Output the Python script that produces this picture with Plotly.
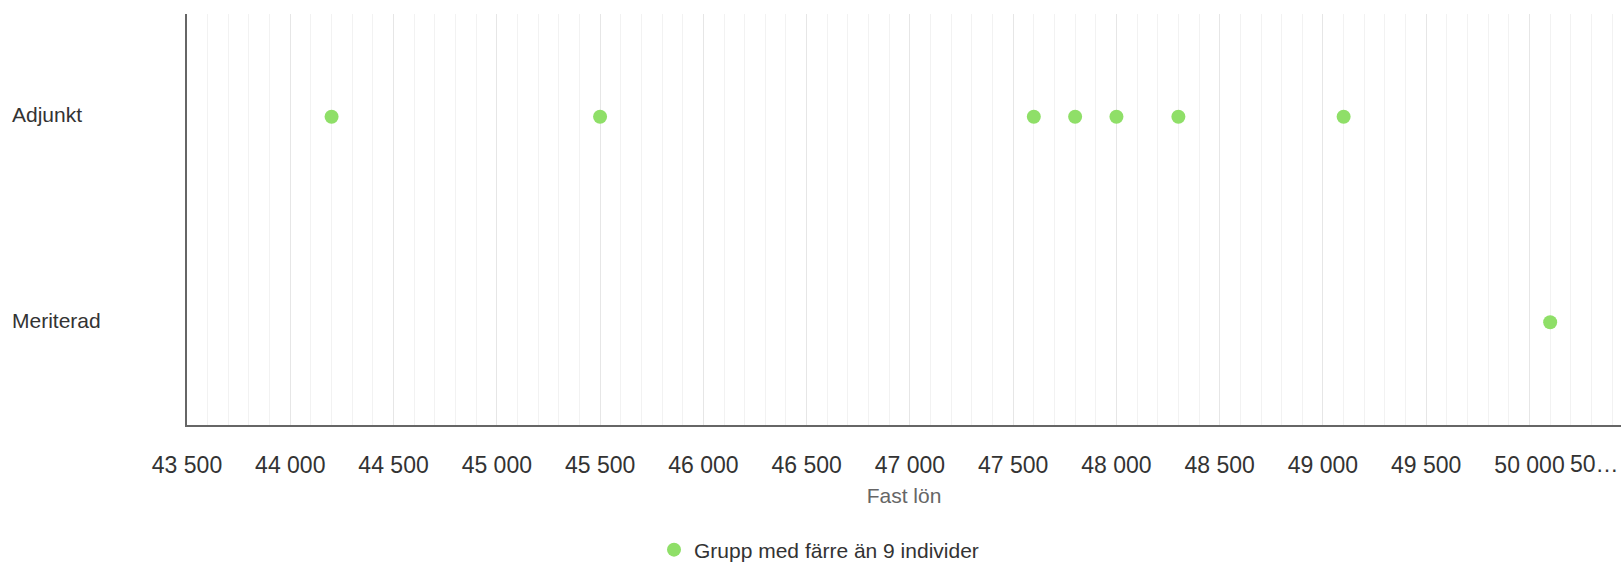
import plotly.graph_objects as go

# Data
categories = ["Adjunkt", "Meriterad"]
adjunkt_salaries = [44200, 45500, 47600, 47800, 48000, 48300, 49100]
meriterad_salaries = [50100]
series_name = "Grupp med färre än 9 individer"
x_title = "Fast lön"
x_tick_values = [43500, 44000, 44500, 45000, 45500, 46000, 46500, 47000,
                 47500, 48000, 48500, 49000, 49500, 50000]
x_tick_labels = ["43 500", "44 000", "44 500", "45 000", "45 500", "46 000", "46 500",
                 "47 000", "47 500", "48 000", "48 500", "49 000", "49 500", "50 000"]
truncated_label = "50…"

W, H = 1621, 563
ML, MR, MT, MB = 187, 0, 14, 138
PW = W - ML - MR
PH = H - MT - MB
FONT = "Liberation Sans, Arial, sans-serif"
GREEN = "#8fdf68"

xs = adjunkt_salaries + meriterad_salaries
ys = [categories[0]] * len(adjunkt_salaries) + [categories[1]] * len(meriterad_salaries)

fig = go.Figure()
fig.add_trace(go.Scatter(
    x=xs, y=ys, mode="markers", name=series_name,
    marker=dict(color=GREEN, size=14, line=dict(width=0)),
    showlegend=True,
))

fig.update_layout(
    width=W, height=H,
    margin=dict(l=ML, r=MR, t=MT, b=MB, autoexpand=False),
    paper_bgcolor="white", plot_bgcolor="white",
    font=dict(family=FONT, color="#333333"),
    showlegend=True,
    legend=dict(
        orientation="h",
        x=(654 - ML) / PW, xanchor="left",
        y=(MT + PH - 550) / PH, yanchor="middle",
        font=dict(size=21, color="#333333", family=FONT),
        bgcolor="rgba(0,0,0,0)",
    ),
    xaxis=dict(
        range=[43500, 43500 + PW / 0.20654],
        tickmode="array", tickvals=x_tick_values, ticktext=x_tick_labels,
        tickfont=dict(size=23, color="#333333", family=FONT),
        ticks="", ticklabelstandoff=18,
        showgrid=True, gridcolor="#e6e6e6", gridwidth=1,
        minor=dict(dtick=100, tick0=43500, showgrid=True, gridcolor="#f2f2f2", gridwidth=1),
        showline=True, linecolor="#666666", linewidth=2,
        zeroline=False, automargin=False,
        title=dict(text=x_title, font=dict(size=21, color="#666666", family=FONT), standoff=12),
    ),
    yaxis=dict(
        type="category", categoryorder="array", categoryarray=categories,
        range=[1.5, -0.5],
        showticklabels=False, ticks="",
        showgrid=False, zeroline=False, automargin=False,
        showline=True, linecolor="#666666", linewidth=2,
    ),
)

for c in categories:
    fig.add_annotation(
        x=(10 - ML) / PW, xref="paper", xanchor="left",
        y=c, yref="y", yanchor="middle", yshift=2,
        text=c, showarrow=False,
        font=dict(size=21, color="#333333", family=FONT),
    )

fig.add_annotation(
    x=1, xref="paper", xanchor="right",
    y=(MT + PH - 464) / PH, yref="paper", yanchor="middle",
    text=truncated_label, showarrow=False,
    font=dict(size=23, color="#333333", family=FONT),
)

fig.write_html(
    "out.html",
    config={"displayModeBar": False},
    post_script="document.body.style.margin='0px';document.body.style.overflow='hidden';",
)
